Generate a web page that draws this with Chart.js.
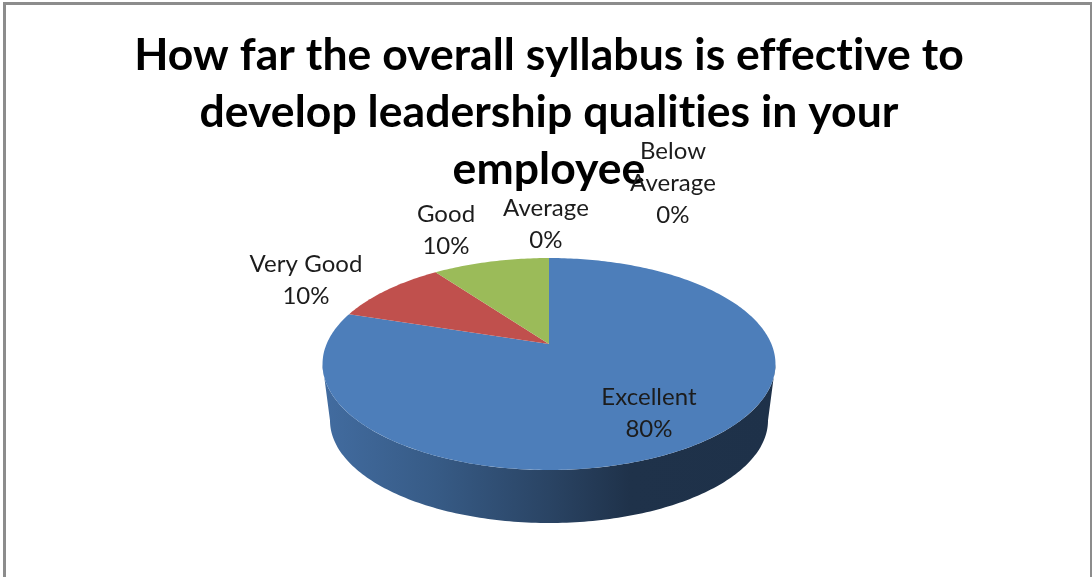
<!DOCTYPE html>
<html>
<head>
<meta charset="utf-8">
<style>
html,body{margin:0;padding:0;background:#fff;}
#wrap{position:relative;width:1092px;height:577px;overflow:hidden;filter:blur(0.45px);}
canvas{display:block;}
.edge{position:absolute;background:#8c8c8c;}
</style>
<script src="https://cdn.jsdelivr.net/npm/chart.js@4"></script>
</head>
<body>
<div id="wrap">
<canvas id="c" width="1092" height="577"></canvas>
<div class="edge" style="left:3px;top:2px;width:1089px;height:3px"></div>
<div class="edge" style="left:3px;top:2px;width:3px;height:575px"></div>
<div class="edge" style="left:1090px;top:2px;width:2px;height:575px"></div>
</div>
<script>
const categories = ["Excellent", "Very Good", "Good", "Average", "Below Average"];
const shares = [80, 10, 10, 0, 0];
const sliceColors = ["#4D7EBA", "#C0504D", "#9BBB59", "#8064A2", "#4BACC6"];
const titleLines = ["How far the overall syllabus is effective to", "develop leadership qualities in your", "employee"];
const labelLines = [["Excellent"], ["Very Good"], ["Good"], ["Average"], ["Below", "Average"]];
const labelCentres = [[649, 397], [306, 264], [446, 214], [546, 208], [673, 151]];

const TILT = -0.1887, SX = 222.4, SY = 102.2;
const WALL = {scale: 0.967, topMid: 364, bottomMid: 420.5, cx: 549};

function project(arc, a) {
  const u = Math.cos(a), v = Math.sin(a), d = 1 + TILT * v;
  return [arc.x + SX * u / d, arc.y + SY * v / d];
}
function lower(p) {
  return [WALL.cx + WALL.scale * (p[0] - WALL.cx), WALL.bottomMid + WALL.scale * (p[1] - WALL.topMid)];
}
function shade(hex, f) {
  const n = parseInt(hex.slice(1), 16);
  return `rgb(${Math.round((n >> 16 & 255) * f)},${Math.round((n >> 8 & 255) * f)},${Math.round((n & 255) * f)})`;
}
function samples(a0, a1) {
  const n = Math.max(2, Math.ceil((a1 - a0) * 60)), out = [];
  for (let i = 0; i <= n; i++) out.push(a0 + (a1 - a0) * i / n);
  return out;
}

const pie3d = {
  id: "pie3d",
  beforeDraw(chart) {
    chart.ctx.letterSpacing = "0.05px";
  },
  beforeDatasetDraw(chart, args) {
    const ctx = chart.ctx;
    const arcs = chart.getDatasetMeta(args.index).data;
    const frontA = Math.asin(-TILT), frontB = Math.PI - frontA;
    arcs.forEach((arc, i) => {
      const s = arc.startAngle, e = arc.endAngle;
      const a0 = Math.max(s, frontA), a1 = Math.min(e, frontB);
      if (a1 <= a0) return;
      const top = samples(a0, a1).map(a => project(arc, a));
      const g = ctx.createLinearGradient(322, 0, 775, 0);
      const col = sliceColors[i];
      g.addColorStop(0, shade(col, 0.86));
      g.addColorStop(0.25, shade(col, 0.72));
      g.addColorStop(0.5, shade(col, 0.54));
      g.addColorStop(0.68, shade(col, 0.40));
      g.addColorStop(1, shade(col, 0.39));
      ctx.beginPath();
      top.forEach((p, j) => j ? ctx.lineTo(p[0], p[1]) : ctx.moveTo(p[0], p[1]));
      top.slice().reverse().forEach(p => { const q = lower(p); ctx.lineTo(q[0], q[1]); });
      ctx.closePath();
      ctx.fillStyle = g;
      ctx.fill();
    });
    arcs.forEach((arc, i) => {
      if (arc.endAngle - arc.startAngle <= 0) return;
      ctx.beginPath();
      ctx.moveTo(arc.x, arc.y);
      samples(arc.startAngle, arc.endAngle).forEach(a => { const p = project(arc, a); ctx.lineTo(p[0], p[1]); });
      ctx.closePath();
      ctx.fillStyle = sliceColors[i];
      ctx.fill();
    });
    return false;
  },
  afterDraw(chart) {
    const ctx = chart.ctx;
    ctx.save();
    ctx.font = "24px Lato";
    ctx.fillStyle = "#1c1c1c";
    ctx.textAlign = "center";
    ctx.textBaseline = "middle";
    categories.forEach((c, i) => {
      const lines = labelLines[i].concat([shares[i] + "%"]);
      lines.forEach((t, j) => ctx.fillText(t, labelCentres[i][0], labelCentres[i][1] + j * 32));
    });
    ctx.restore();
  }
};

new Chart(document.getElementById("c"), {
  type: "pie",
  data: {labels: categories, datasets: [{data: shares, backgroundColor: sliceColors, borderWidth: 0}]},
  options: {
    responsive: false,
    animation: false,
    layout: {padding: {left: 6, right: 0, top: 0, bottom: 87}},
    plugins: {
      legend: {display: false},
      tooltip: {enabled: false},
      title: {
        display: true,
        text: titleLines,
        color: "#000",
        font: {family: "Lato", weight: "bold", size: 44.5, lineHeight: 1.281},
        padding: {top: 27, bottom: 0}
      }
    }
  },
  plugins: [pie3d]
});
</script>
</body>
</html>
